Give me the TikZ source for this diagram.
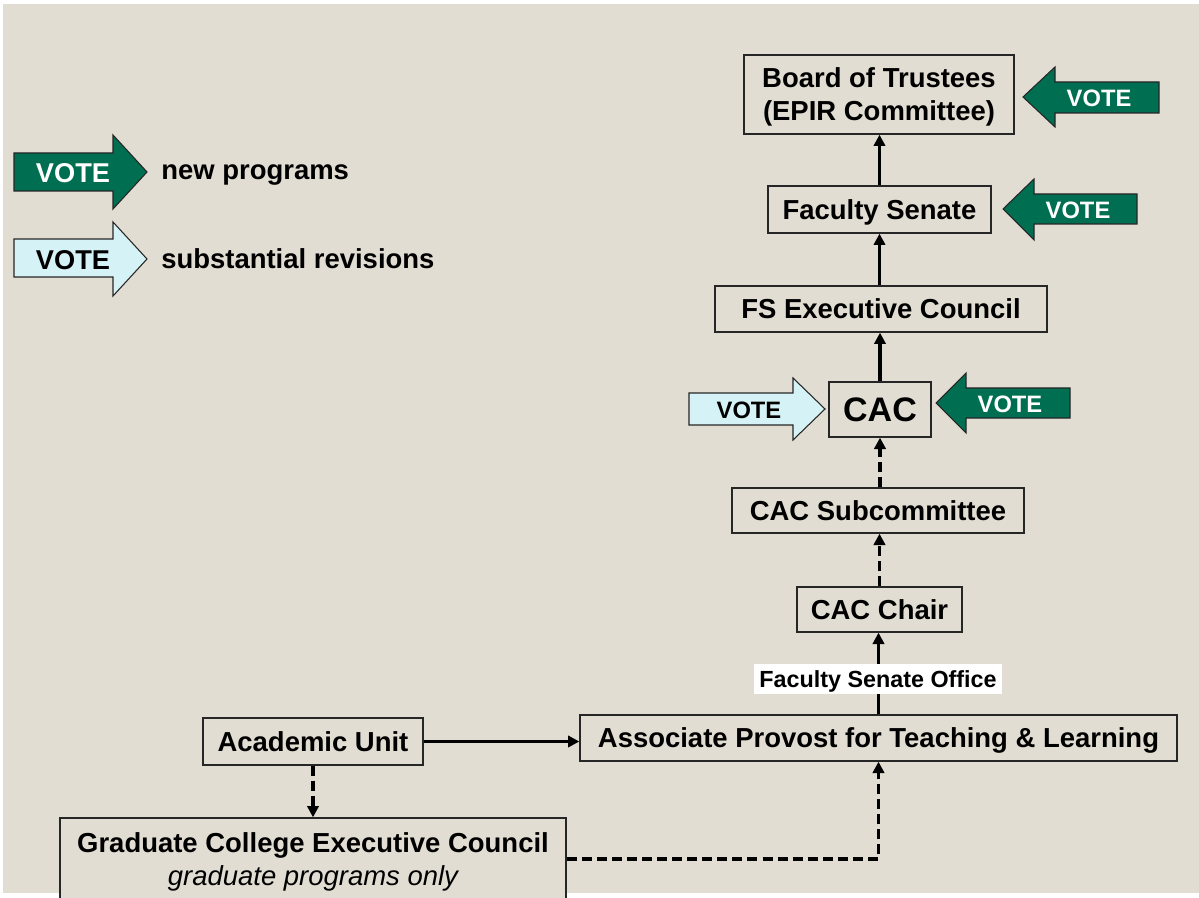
\documentclass[tikz,border=0pt]{standalone}
\usepackage{fontspec}
\setmainfont{Liberation Sans}
\usetikzlibrary{arrows.meta}
\definecolor{bg}{RGB}{226,221,210}
\definecolor{vgreen}{RGB}{0,111,81}
\definecolor{vlight}{RGB}{213,243,246}
\begin{document}
\begin{tikzpicture}[x=0.75pt,y=-0.75pt,
  box/.style={draw=black!85, line width=1pt, fill=bg, inner sep=0pt, align=center, text depth=0pt,
    font=\fontsize{20.6}{24.8}\selectfont\bfseries},
  arr/.style={line width=2.9pt, -{Triangle[length=8.5pt,width=8.5pt]}},
  darr/.style={arr, dash pattern=on 7.5pt off 3.8pt},
  vg/.style={draw=black!85, line width=0.8pt, fill=vgreen},
  vl/.style={draw=black!85, line width=0.8pt, fill=vlight},
  vtxt/.style={font=\fontsize{17.8}{20}\selectfont\bfseries, inner sep=0pt, text depth=0pt},
  legtxt/.style={font=\fontsize{20.6}{24.8}\selectfont\bfseries, inner sep=0pt, anchor=west, text depth=0pt}]
\useasboundingbox (0,0) rectangle (1199,898);
\clip (0,0) rectangle (1199,898);
\fill[white] (0,0) rectangle (1199,898);
\fill[bg] (3,4) rectangle (1199,893);

% legend
\draw[vg] (14,153) -- (113,153) -- (113,135) -- (147,172) -- (113,209) -- (113,191) -- (14,191) -- cycle;
\node[vtxt, text=white, font=\fontsize{20.4}{22}\selectfont\bfseries] (lg1) at (73,173) {VOTE};
\node[legtxt] (lgt1) at (161,172) {new programs};
\draw[vl] (14,239) -- (113,239) -- (113,222) -- (147,259) -- (113,296) -- (113,277) -- (14,277) -- cycle;
\node[vtxt, font=\fontsize{20.4}{22}\selectfont\bfseries] (lg2) at (73,260) {VOTE};
\node[legtxt] (lgt2) at (161,259) {substantial revisions};

% boxes
\node[box, minimum width=270*0.75pt, minimum height=79*0.75pt] (board) at (879,94.5) {Board of Trustees\\(EPIR Committee)};
\node[box, minimum width=223*0.75pt, minimum height=47*0.75pt] (fs) at (879.5,209.5) {Faculty Senate};
\node[box, minimum width=332*0.75pt, minimum height=46*0.75pt] (fsec) at (881,309) {FS Executive Council};
\node[box, minimum width=102*0.75pt, minimum height=55*0.75pt, font=\fontsize{25.5}{30}\selectfont\bfseries] (cac) at (880,409.5) {CAC};
\node[box, minimum width=292*0.75pt, minimum height=45*0.75pt] (sub) at (878,510.5) {CAC Subcommittee};
\node[box, minimum width=165*0.75pt, minimum height=45*0.75pt] (chair) at (879.5,609.5) {CAC Chair};
\node[box, minimum width=597*0.75pt, minimum height=46*0.75pt] (apt) at (878.5,738) {Associate Provost for Teaching \& Learning};
\node[box, minimum width=220*0.75pt, minimum height=47*0.75pt] (au) at (313,741.5) {Academic Unit};
\node[box, minimum width=506*0.75pt, minimum height=82*0.75pt] (gc) at (313,859) {Graduate College Executive Council\\\mdseries\itshape graduate programs only};

% vote arrows
\draw[vg] (1023,97) -- (1055,67) -- (1055,82) -- (1159,82) -- (1159,113) -- (1055,113) -- (1055,127) -- cycle;
\node[vtxt, text=white] (v1) at (1099,98) {VOTE};
\draw[vg] (1003,209) -- (1034,179) -- (1034,194) -- (1137,194) -- (1137,224) -- (1034,224) -- (1034,240) -- cycle;
\node[vtxt, text=white] (v2) at (1078,210) {VOTE};
\draw[vg] (936,403) -- (966,373) -- (966,388) -- (1070,388) -- (1070,418) -- (966,418) -- (966,433) -- cycle;
\node[vtxt, text=white] (v3) at (1010,404) {VOTE};
\draw[vl] (689,393) -- (793,393) -- (793,378) -- (825,409) -- (793,440) -- (793,425) -- (689,425) -- cycle;
\node[vtxt] (v4) at (749,410) {VOTE};

% connectors
\draw[arr] (fs.north) -- (fs.north |- board.south);
\draw[arr] (fsec.north -| fs.north) -- (fs.south);
\draw[arr] (cac.north) -- (cac.north |- fsec.south);
\draw[darr] (sub.north -| cac.south) -- (cac.south);
\draw[darr] (chair.north) -- (chair.north |- sub.south);
\draw[arr] (apt.north) -- (apt.north |- chair.south);
\node[fill=white, inner sep=0pt, minimum width=248*0.75pt, minimum height=30*0.75pt, text depth=0pt,
  font=\fontsize{17.5}{20}\selectfont\bfseries] (fso) at (878,679) {Faculty Senate Office};
\draw[arr] (au.east) -- (au.east -| apt.west);
\draw[darr] (au.south) -- (au.south |- gc.north);
\draw[darr] (gc.east) -| (apt.south);
\end{tikzpicture}
\end{document}
